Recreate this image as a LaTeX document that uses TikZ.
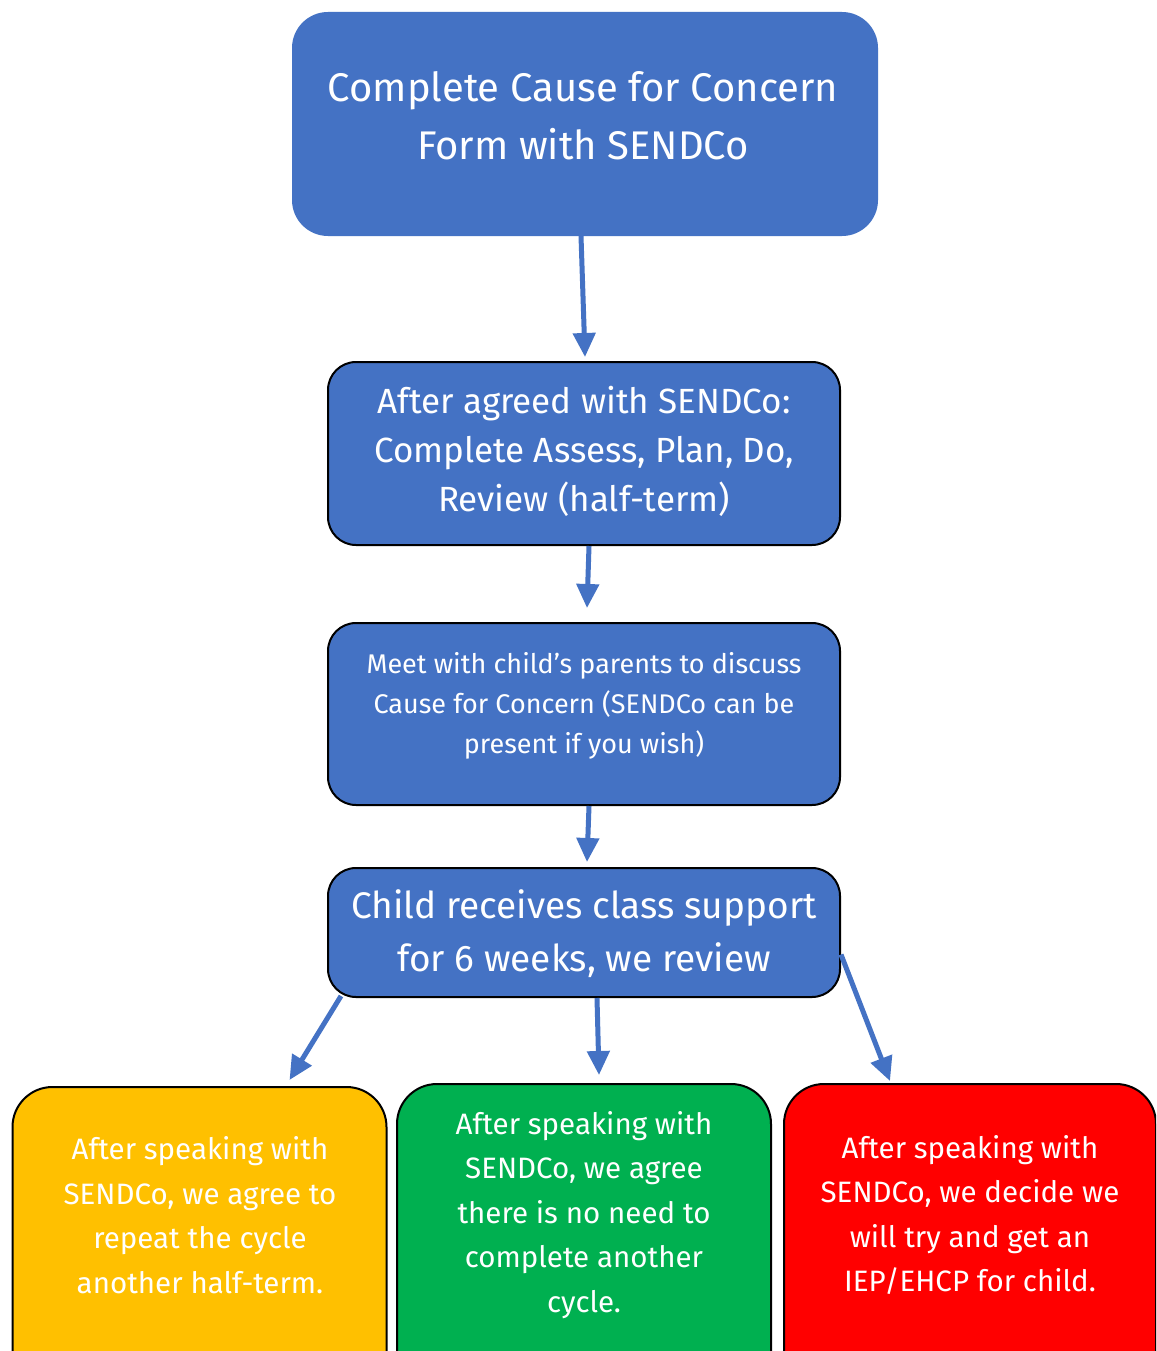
\documentclass[tikz,border=0pt]{standalone}
\usepackage{fontspec}
\setmainfont{Fira Sans}
\usetikzlibrary{arrows.meta,calc}
\definecolor{boxblue}{HTML}{4472C4}
\definecolor{boxorange}{HTML}{FFC000}
\definecolor{boxgreen}{HTML}{00B050}
\definecolor{boxred}{HTML}{FF0000}
\tikzset{
  bluebox/.style={draw=black, line width=2pt, fill=boxblue, rounded corners=28pt, inner sep=0pt},
  endbox/.style={draw=black, line width=2pt, rounded corners=40pt, inner sep=0pt, minimum width=374pt, minimum height=330pt},
  boxtext/.style={text=white, align=center, inner sep=0pt},
  flow/.style={draw=boxblue, line width=5pt, -{Triangle[width=22pt,length=24pt]}, shorten >=0pt}
}
\begin{document}
\begin{tikzpicture}[x=1pt,y=-1pt]
\useasboundingbox (0,0) rectangle (1156,1351);
\clip (0,0) rectangle (1156,1351);
\fill[white] (0,0) rectangle (1156,1351);
% boxes
\node[bluebox, draw=boxblue, rounded corners=35pt, minimum width=584pt, minimum height=222pt] (b1) at (585,124) {};
\node[bluebox, minimum width=512pt, minimum height=183pt] (b2) at (584,453.5) {};
\node[bluebox, minimum width=512pt, minimum height=182pt] (b3) at (584,714) {};
\node[bluebox, minimum width=512pt, minimum height=129pt] (b4) at (584,932.5) {};
\node[endbox, fill=boxorange, anchor=north] (b5) at (199.5,1086) {};
\node[endbox, fill=boxgreen, anchor=north] (b6) at (584,1083) {};
\node[endbox, fill=boxred, anchor=north, minimum width=372pt] (b7) at (970,1083) {};
% texts
\node[boxtext, font=\fontsize{40}{58}\selectfont] (t1) at (583,116) {Complete Cause for Concern\\Form with SENDCo};
\node[boxtext, font=\fontsize{35}{49}\selectfont] (t2) at (584,451) {After agreed with SENDCo:\\Complete Assess, Plan, Do,\\Review (half-term)};
\node[boxtext, font=\fontsize{27}{40}\selectfont] (t3) at (584,706) {Meet with child's parents to discuss\\Cause for Concern (SENDCo can be\\present if you wish)};
\node[boxtext, font=\fontsize{37}{53}\selectfont] (t4) at (584,934) {Child receives class support\\for 6 weeks, we review};
\node[boxtext, font=\fontsize{29.5}{44.5}\selectfont] (t5) at (200,1215) {After speaking with\\SENDCo, we agree to\\repeat the cycle\\another half-term.};
\node[boxtext, font=\fontsize{29.5}{44.5}\selectfont] (t6) at (584,1215) {After speaking with\\SENDCo, we agree\\there is no need to\\complete another\\cycle.};
\node[boxtext, font=\fontsize{29.5}{44.5}\selectfont] (t7) at (970,1215) {After speaking with\\SENDCo, we decide we\\will try and get an\\IEP/EHCP for child.};
% connectors
\draw[flow] ($(b1.south)+(-4,0)$) -- ($(b2.north)+(1,-4)$);
\draw[flow] ($(b2.south)+(5,0)$) -- ($(b3.north)+(3,-14)$);
\draw[flow] ($(b3.south)+(5,0)$) -- ($(b4.north)+(3,-5)$);
\draw[flow] ($(b4.south west)+(14,-2)$) -- ($(b5.north)+(90,-6)$);
\draw[flow] ($(b4.south)+(13,0)$) -- ($(b6.north)+(15,-8)$);
\draw[flow] ($(b4.east)+(0,22)$) -- ($(b7.north)+(-80,-2)$);
\end{tikzpicture}
\end{document}
